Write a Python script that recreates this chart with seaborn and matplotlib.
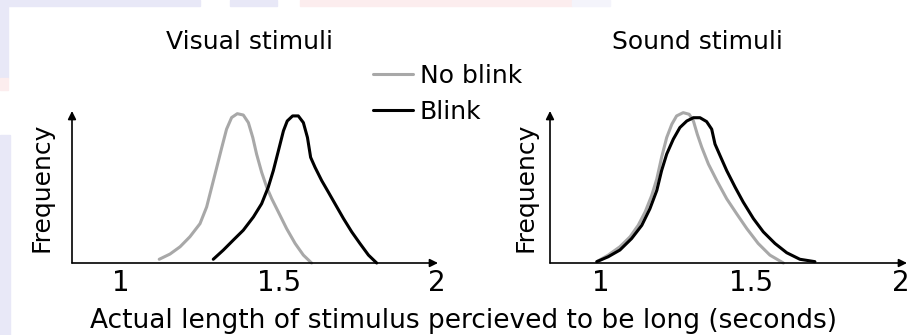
import numpy as np
import pandas as pd
import seaborn as sns
import matplotlib.pyplot as plt
from matplotlib.lines import Line2D
from matplotlib.patches import Rectangle

# curve points (x in seconds, frequency scaled so the peak is ~1)
visual_noblink_x = [1.121, 1.155, 1.187, 1.218, 1.250, 1.271, 1.287, 1.303, 1.319, 1.334, 1.350, 1.368,
                    1.387, 1.403, 1.417, 1.429, 1.445, 1.461, 1.477, 1.498, 1.524, 1.551, 1.577, 1.603]
visual_noblink_y = [0.025, 0.060, 0.109, 0.176, 0.264, 0.376, 0.509, 0.642, 0.776, 0.898, 0.976, 1.002,
                    0.993, 0.942, 0.842, 0.731, 0.609, 0.509, 0.431, 0.342, 0.231, 0.131, 0.053, 0.000]
visual_blink_x = [1.292, 1.324, 1.355, 1.387, 1.419, 1.445, 1.466, 1.482, 1.498, 1.514, 1.526, 1.543, 1.561,
                  1.577, 1.590, 1.600, 1.614, 1.635, 1.656, 1.677, 1.704, 1.730, 1.756, 1.783, 1.809]
visual_blink_y = [0.025, 0.087, 0.153, 0.220, 0.309, 0.398, 0.509, 0.620, 0.753, 0.887, 0.953, 0.987, 0.987,
                  0.942, 0.842, 0.709, 0.642, 0.553, 0.476, 0.398, 0.298, 0.209, 0.131, 0.053, 0.000]

sound_noblink_x = [0.986, 1.024, 1.063, 1.097, 1.124, 1.147, 1.169, 1.186, 1.202, 1.219, 1.236, 1.252, 1.274,
                   1.294, 1.308, 1.321, 1.336, 1.358, 1.386, 1.419, 1.452, 1.486, 1.524, 1.563, 1.608]
sound_noblink_y = [0.009, 0.053, 0.109, 0.176, 0.253, 0.342, 0.453, 0.564, 0.709, 0.842, 0.931, 0.987, 1.009,
                   0.998, 0.953, 0.864, 0.776, 0.664, 0.553, 0.431, 0.331, 0.231, 0.131, 0.053, 0.000]
sound_blink_x = [0.986, 1.024, 1.063, 1.102, 1.136, 1.163, 1.186, 1.202, 1.219, 1.241, 1.263, 1.286, 1.308, 1.330,
                 1.352, 1.369, 1.380, 1.397, 1.419, 1.447, 1.474, 1.508, 1.541, 1.580, 1.619, 1.663, 1.713]
sound_blink_y = [0.009, 0.042, 0.087, 0.164, 0.253, 0.364, 0.487, 0.620, 0.731, 0.831, 0.909, 0.953, 0.975, 0.975,
                 0.949, 0.898, 0.798, 0.720, 0.620, 0.509, 0.409, 0.298, 0.209, 0.131, 0.069, 0.025, 0.009]

conditions = ['No blink', 'Blink']
titles = ['Visual stimuli', 'Sound stimuli']
tick_vals = [1, 1.5, 2]
tick_labels = ['1', '1.5', '2']
xlabel = 'Actual length of stimulus percieved to be long (seconds)'

def make_frame(nb_x, nb_y, b_x, b_y):
    d1 = pd.DataFrame({'x': nb_x, 'freq': nb_y, 'cond': conditions[0]})
    d2 = pd.DataFrame({'x': b_x, 'freq': b_y, 'cond': conditions[1]})
    return pd.concat([d1, d2], ignore_index=True)

visual = make_frame(visual_noblink_x, visual_noblink_y, visual_blink_x, visual_blink_y)
sound = make_frame(sound_noblink_x, sound_noblink_y, sound_blink_x, sound_blink_y)

sns.set_theme(style="white")
plt.rcParams['font.family'] = ['DejaVu Sans']

W, H = 909, 335
fig = plt.figure(figsize=(W / 100, H / 100), dpi=100)
fig.patch.set_facecolor('white')

# faint slide background showing at the edges
lav = '#e8e8f7'
pink = '#fcedee'
for (x0, y0, w, h, c) in [(0, 0, 200, 6, lav), (230, 0, 47, 6, lav), (300, 0, 272, 6, pink),
                          (572, 0, 38, 6, '#f4f4fb'), (0, 0, 8, 78, lav), (0, 78, 8, 12, pink),
                          (0, 135, 10, 200, lav)]:
    fig.patches.append(Rectangle((x0 / W, 1 - (y0 + h) / H), w / W, h / H,
                                 transform=fig.transFigure, color=c, zorder=0))

palette = {'No blink': '#a8a8a8', 'Blink': 'black'}

def px(l, r, b, t):
    return [l / W, 1 - b / H, (r - l) / W, (b - t) / H]

ax1 = fig.add_axes(px(72, 438, 263, 111))
ax2 = fig.add_axes(px(550, 907, 263, 111))

panels = [(ax1, visual, (0.845, 2.003), 0.486, 13), (ax2, sound, (0.83, 2.02), 0.412, 9)]
for (ax, df, xlim, tx, lp), title in zip(panels, titles):
    sns.lineplot(data=df, x='x', y='freq', hue='cond', hue_order=conditions, palette=palette,
                 estimator=None, sort=False, lw=2.2, legend=False, ax=ax, clip_on=False,
                 solid_joinstyle='round', solid_capstyle='round')
    ax.set_xlim(*xlim)
    ax.set_ylim(0, 1.02)
    for s in ax.spines.values():
        s.set_visible(False)
    ax.annotate('', xy=(1, 0), xytext=(0, 0), xycoords='axes fraction',
                arrowprops=dict(arrowstyle='-|>', color='black', lw=1.2, mutation_scale=12, shrinkA=0, shrinkB=0))
    ax.annotate('', xy=(0, 1), xytext=(0, 0), xycoords='axes fraction',
                arrowprops=dict(arrowstyle='-|>', color='black', lw=1.2, mutation_scale=12, shrinkA=0, shrinkB=0))
    ax.set_xticks(tick_vals)
    ax.set_xticklabels(tick_labels)
    ax.set_yticks([])
    ax.tick_params(axis='x', length=0, pad=4, labelsize=20, colors='black')
    ax.set_xlabel('')
    ax.set_ylabel('Frequency', fontsize=18, labelpad=lp, color='black')
    ax.text(tx, 1.454, title, transform=ax.transAxes, ha='center', va='center', fontsize=18, color='black')
    ax.patch.set_alpha(0)

fig.text(463 / W, 1 - 321 / H, xlabel, ha='center', va='center', fontsize=19, color='black')

handles = [Line2D([], [], color=palette[c], lw=2.2) for c in conditions]
fig.legend(handles, conditions, loc='upper left', bbox_to_anchor=(373 / W, 1 - 64 / H),
           frameon=False, fontsize=18, handlelength=1.6, handletextpad=0.28,
           labelspacing=0.48, borderpad=0, borderaxespad=0, labelcolor='black')

plt.savefig('out.png', dpi=100, facecolor='white')
